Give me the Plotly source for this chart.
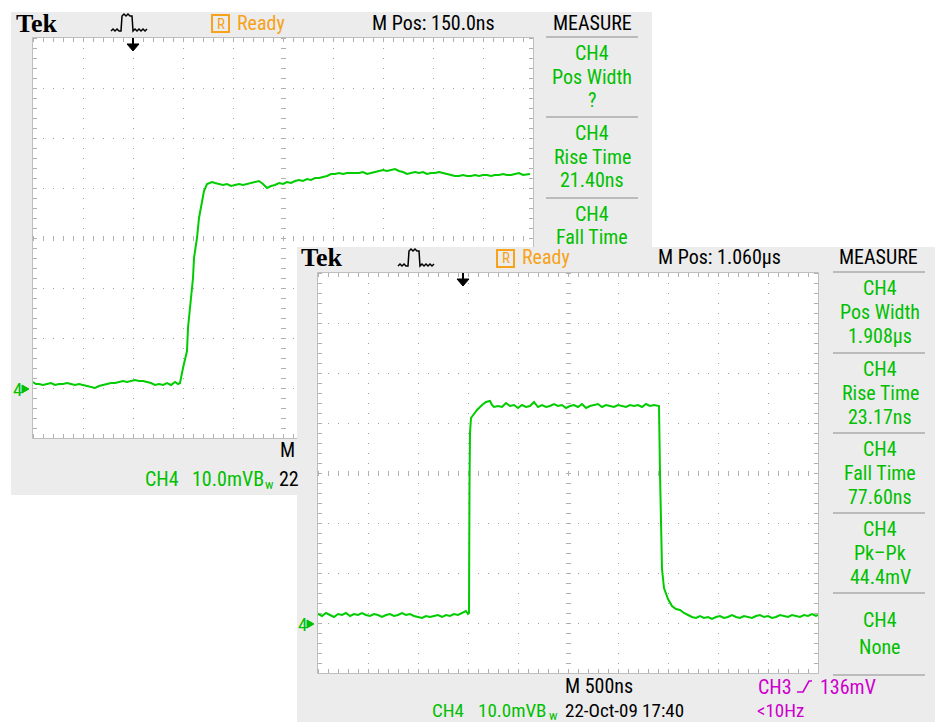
import plotly.graph_objects as go

# The page has an 8px body margin: the figure is placed at (8, 8) in the 943x722 window.
OFF = 8
W, H = 943 - OFF, 722 - OFF

# ---------------- data ----------------
# Panel 1 : CH4, 10 mV/div, time in ns (rising edge)
p1_time_ns = [0, 3, 6, 10, 14, 18, 22, 26, 30, 34, 38, 42, 46, 50, 54, 58, 62, 66, 70, 74,
              78, 82, 86, 90, 94, 98, 102, 106, 110, 114, 118, 122, 126, 130, 134, 138, 142, 145, 147,
              150, 154, 155, 158, 160, 161, 164, 166, 169, 171, 174, 179,
              182, 186, 190, 194, 198, 202, 206, 210, 214, 218, 222, 226, 230, 234, 238, 242, 246, 250,
              254, 258, 262, 266, 270, 274, 278, 282, 286, 290, 294, 298, 302, 306, 310, 314, 318, 322,
              326, 330, 334, 338, 342, 346, 350, 354, 358, 362, 366, 370, 374, 378, 382, 386, 390, 394,
              398, 402, 406, 410, 414, 418, 422, 426, 430, 434, 438, 442, 446, 450, 454, 458, 462, 466,
              470, 474, 478, 482, 486, 490, 494, 497]
p1_mv = [1.2, 0.8, 0.8, 0.6, 0.8, 1.0, 0.6, 0.8, 0.8, 1.0, 0.8, 0.6, 0.8, 0.6, 0.4, 0.2, 0.0, 0.4, 0.6, 0.8,
         1.0, 1.0, 1.2, 1.4, 1.2, 1.4, 1.6, 1.4, 1.4, 1.2, 1.0, 0.6, 0.8, 0.6, 1.0, 0.6, 1.2, 0.8, 1.0,
         4.0, 7.4, 12.0, 17.4, 22.0, 26.0, 30.0, 34.0, 37.4, 39.4, 40.8, 41.2,
         41.0, 40.8, 40.6, 40.8, 40.4, 40.6, 40.8, 40.6, 40.8, 41.0, 41.2, 41.4, 40.8, 40.0, 40.4, 40.6, 41.0, 40.8,
         41.2, 41.0, 41.4, 41.6, 41.4, 41.8, 41.6, 42.0, 42.0, 42.2, 42.4, 42.8, 42.8, 43.0, 42.8, 43.0, 43.0, 43.0,
         43.0, 43.2, 42.8, 43.0, 43.2, 43.4, 43.6, 43.4, 43.6, 43.8, 43.4, 43.2, 42.8, 43.0, 43.2, 43.0, 43.2, 42.8,
         43.0, 43.0, 43.2, 43.0, 42.8, 42.6, 42.4, 42.4, 42.6, 42.4, 42.4, 42.6, 42.4, 42.6, 42.6, 42.4, 42.6, 42.6,
         42.8, 42.6, 42.6, 42.8, 43.0, 42.6, 42.8, 42.8]

# Panel 2 : CH4, 10 mV/div, 500 ns/div, time in us (full pulse)
p2_time_us = [0.00, 0.04, 0.08, 0.12, 0.16, 0.20, 0.24, 0.28, 0.32, 0.36, 0.40, 0.44, 0.48, 0.52, 0.56,
              0.60, 0.64, 0.68, 0.72, 0.76, 0.80, 0.84, 0.88, 0.92, 0.96, 1.00, 1.04, 1.08, 1.12, 1.16,
              1.20, 1.24, 1.28, 1.32, 1.36, 1.40, 1.44, 1.48, 1.50, 1.51,
              1.515, 1.52, 1.53, 1.56, 1.59, 1.64, 1.68, 1.72, 1.74,
              1.76, 1.80, 1.84, 1.88, 1.92, 1.96, 2.00, 2.04, 2.08, 2.12, 2.16, 2.20, 2.24, 2.28, 2.32,
              2.36, 2.40, 2.44, 2.48, 2.52, 2.56, 2.60, 2.64, 2.68, 2.72, 2.76, 2.80, 2.84, 2.88, 2.92,
              2.96, 3.00, 3.04, 3.08, 3.12, 3.16, 3.20, 3.24, 3.28, 3.32, 3.36, 3.40,
              3.41, 3.42, 3.44, 3.46, 3.48, 3.50, 3.54, 3.58, 3.62, 3.66,
              3.70, 3.74, 3.78, 3.82, 3.86, 3.90, 3.94, 3.98, 4.02, 4.06, 4.10, 4.14, 4.18, 4.22, 4.26,
              4.30, 4.34, 4.38, 4.42, 4.46, 4.50, 4.54, 4.58, 4.62, 4.66, 4.70, 4.74, 4.78, 4.82, 4.86,
              4.90, 4.94, 4.98, 5.00]
p2_mv = [1.8, 1.4, 2.0, 1.6, 1.2, 1.8, 1.6, 2.0, 1.4, 1.8, 1.6, 2.0, 1.6, 1.4, 1.8,
         1.6, 1.2, 1.6, 1.8, 1.4, 1.6, 2.0, 1.6, 1.8, 1.4, 1.2, 1.0, 1.4, 1.2, 1.4,
         1.6, 1.2, 1.6, 1.4, 1.8, 1.6, 2.0, 2.4, 1.8, 2.0,
         27.4, 38.0, 41.0, 41.8, 42.6, 43.6, 44.2, 44.4, 43.6,
         43.2, 43.4, 43.2, 44.0, 43.4, 43.6, 43.0, 43.6, 43.2, 43.4, 44.2, 43.2, 43.6, 43.2, 43.4,
         43.8, 43.4, 43.6, 43.0, 43.4, 43.6, 43.2, 43.8, 43.0, 43.4, 43.6, 43.8, 43.2, 43.6, 43.4,
         43.2, 43.6, 43.4, 43.2, 43.6, 43.4, 43.6, 43.2, 43.8, 43.4, 43.6, 43.4,
         43.4, 30.0, 10.8, 7.0, 5.8, 4.8, 3.4, 2.8, 2.6, 2.0,
         1.6, 1.2, 1.0, 1.4, 1.0, 1.2, 0.8, 1.2, 1.4, 1.0, 1.2, 1.6, 1.2, 1.0, 1.4,
         1.2, 1.0, 1.4, 1.6, 1.2, 1.4, 1.0, 1.2, 1.6, 1.4, 1.2, 1.6, 1.4, 1.2, 1.6,
         1.4, 1.8, 1.4, 1.6]

p1_measure = [["CH4", "Pos Width", "?"], ["CH4", "Rise Time", "21.40ns"], ["CH4", "Fall Time"]]
p2_measure = [["CH4", "Pos Width", "1.908\u03bcs"], ["CH4", "Rise Time", "23.17ns"],
              ["CH4", "Fall Time", "77.60ns"], ["CH4", "Pk\u2013Pk", "44.4mV"], ["CH4", "None"]]

# ---------------- style ----------------
GRAY_BG = "#ECECEC"
DOT = "#A0A0A0"
TICK = "#B0B0B0"
BORDER = "#BEBEBE"
SEP = "#BBBBBB"
GREEN_T = "#00C000"
TRACE = "#00CC00"
ORANGE = "#F7A21B"
MAGENTA = "#CC00CC"
FONT = "Liberation Sans Narrow, Roboto Condensed, DejaVu Sans Condensed, Roboto, sans-serif"
FS = 20
SERIF = "Liberation Serif, DejaVu Serif, serif"


def px(x):
    return (x - OFF) / W


def py(y):
    return 1 - (y - OFF) / H


shapes = []
annotations = []


def rect(x0, y0, x1, y1, fill, lc=None, lw=0):
    shapes.append(dict(type="rect", xref="paper", yref="paper", x0=px(x0), x1=px(x1),
                       y0=py(y1), y1=py(y0), fillcolor=fill,
                       line=dict(width=lw, color=lc or "rgba(0,0,0,0)"), layer="below"))


def seg(x0, y0, x1, y1, color, width=1, dash="solid"):
    shapes.append(dict(type="line", xref="paper", yref="paper", x0=px(x0), y0=py(y0),
                       x1=px(x1), y1=py(y1), line=dict(color=color, width=width, dash=dash),
                       layer="below"))


def path(pts, color, width=1.5, fill=None, close=False):
    d = "M " + " L ".join(f"{px(x):.6f},{py(y):.6f}" for x, y in pts)
    if close:
        d += " Z"
    shapes.append(dict(type="path", xref="paper", yref="paper", path=d,
                       line=dict(color=color, width=width),
                       fillcolor=fill or "rgba(0,0,0,0)", layer="below"))


def text(x, y, s, color="black", size=FS, anchor="center", family=FONT, pad=1, weight="normal"):
    annotations.append(dict(x=px(x), y=py(y), xref="paper", yref="paper", text=s,
                            showarrow=False, xanchor=anchor, yanchor="middle", borderpad=pad,
                            font=dict(family=family, size=size, color=color, weight=weight)))


def graticule(L, T):
    rect(L, T, L + 500, T + 400, "white")
    for i in range(1, 10):
        x = L + 50 * i + 0.5
        if i == 5:
            seg(x, T, x, T + 400, TICK, 5, "1px,9px")
        else:
            seg(x, T, x, T + 400, DOT, 1, "1px,9px")
    for j in range(1, 8):
        y = T + 50 * j + 0.5
        if j == 4:
            seg(L, y, L + 500, y, TICK, 5, "1px,9px")
        else:
            seg(L, y, L + 500, y, DOT, 1, "1px,9px")
    seg(L + 2, T, L + 2, T + 400, TICK, 4, "1px,9px")
    seg(L + 498, T, L + 498, T + 400, TICK, 4, "1px,9px")
    seg(L, T + 2, L + 500, T + 2, TICK, 4, "1px,9px")
    seg(L, T + 398, L + 500, T + 398, TICK, 4, "1px,9px")
    rect(L - 0.5, T - 0.5, L + 500.5, T + 400.5, "rgba(0,0,0,0)", BORDER, 1)


def trig_icon(dx, dy):
    pts = [(111, 31), (113, 29), (115, 31), (117, 29), (119, 31), (121, 31), (122, 16),
           (124, 14), (126, 16), (128, 14), (130, 16), (132, 16), (133, 31), (135, 29),
           (137, 31), (139, 29), (141, 31), (143, 29), (145, 31), (147, 29)]
    path([(x + dx, y + dy) for x, y in pts], "black", 1.5)


def ready(dx, dy):
    rect(212 + dx, 15 + dy, 229 + dx, 32 + dy, "rgba(0,0,0,0)", ORANGE, 2)
    text(220.5 + dx, 23.5 + dy, "R", ORANGE, 15)
    text(235 + dx, 22.5 + dy, "Ready", ORANGE, FS, "left")


def down_arrow(x, y):
    seg(x, y, x, y + 7, "black", 2)
    path([(x - 6, y + 6), (x + 6, y + 6), (x, y + 13)], "black", 1, "black", True)


def ground_marker(x, y):
    text(x, y, "4", GREEN_T, 19, "left")
    path([(x + 11, y - 4), (x + 11, y + 4), (x + 18, y)], GREEN_T, 1, GREEN_T, True)


def volts_label(x_ch, x_val, x_w, y, size):
    text(x_ch, y, "CH4", GREEN_T, size, "left", pad=0)
    text(x_val, y, "10.0mVB", GREEN_T, size, "left", pad=0)
    text(x_w, y + 5, "w", GREEN_T, 13, "left", pad=0)


# ---------------- panel 1 ----------------
rect(11, 12, 652, 495, GRAY_BG)
graticule(33, 38)
text(14, 23, "Tek", "black", 26, "left", SERIF, weight="bold")
trig_icon(0, 0)
ready(0, 0)
text(370, 22.5, "M Pos: 150.0ns", "black", FS, "left")
text(592, 22.5, "MEASURE", "black", FS)
for k, sep in enumerate([37, 117, 198]):
    seg(546, sep, 638, sep, SEP, 2)
    for m, s in enumerate(p1_measure[k]):
        text(592, sep + 16 + 23.5 * m, s, GREEN_T, FS)
down_arrow(133, 38)
ground_marker(11, 389)
text(278, 450, "M", "black", FS, "left")
volts_label(144, 191, 264, 479, FS)
text(278, 479, "22", "black", FS, "left", pad=0)

# ---------------- panel 2 ----------------
DX, DY = 285, 235
rect(297, 247, 938, 723, GRAY_BG)
graticule(318, 273)
text(14 + DX, 23 + DY, "Tek", "black", 26, "left", SERIF, weight="bold")
trig_icon(DX + 2, DY)
ready(DX, DY)
text(656, 257.5, "M Pos: 1.060\u03bcs", "black", FS, "left")
text(878, 257.5, "MEASURE", "black", FS)
seps2 = [272, 353, 433, 513, 593]
for k, sep in enumerate(seps2):
    seg(833, sep, 925, sep, SEP, 2)
    lines = p2_measure[k]
    if len(lines) == 3:
        for m, s in enumerate(lines):
            text(880, sep + 16 + 24 * m, s, GREEN_T, FS)
    else:
        text(880, sep + 27, lines[0], GREEN_T, FS)
        text(880, sep + 54, lines[1], GREEN_T, FS)
seg(833, 675, 925, 675, SEP, 2)
down_arrow(463, 273)
ground_marker(296, 624)
text(563, 686, "M 500ns", "black", FS, "left")
volts_label(431, 477, 548, 710, 19)
text(564, 710, "22-Oct-09 17:40", "black", 19, "left", pad=0)
text(756, 687, "CH3", MAGENTA, FS, "left")
path([(797, 692), (803, 692), (809, 681), (812, 681)], MAGENTA, 1.6)
text(818, 687, "136mV", MAGENTA, FS, "left")
text(756, 710, "&lt;10Hz", MAGENTA, 19, "left", pad=0)

# ---------------- figure ----------------
fig = go.Figure()
fig.add_trace(go.Scatter(x=p1_time_ns, y=p1_mv, mode="lines", line=dict(color=TRACE, width=2),
                         xaxis="x", yaxis="y", hoverinfo="skip"))
fig.add_trace(go.Scatter(x=p2_time_us, y=p2_mv, mode="lines", line=dict(color=TRACE, width=2),
                         xaxis="x2", yaxis="y2", hoverinfo="skip"))

ax_common = dict(visible=False, showgrid=False, zeroline=False, fixedrange=True)
fig.update_layout(
    width=W, height=H, margin=dict(l=0, r=0, t=0, b=0),
    paper_bgcolor="white", plot_bgcolor="rgba(0,0,0,0)", showlegend=False, hovermode=False,
    xaxis=dict(domain=[px(33), px(533)], range=[0, 500], anchor="y", **ax_common),
    yaxis=dict(domain=[py(438), py(38)], range=[-10, 70], anchor="x", **ax_common),
    xaxis2=dict(domain=[px(318), px(818)], range=[0, 5], anchor="y2", **ax_common),
    yaxis2=dict(domain=[py(673), py(273)], range=[-10, 70], anchor="x2", **ax_common),
    shapes=shapes, annotations=annotations,
)
fig.write_html("out.html")
